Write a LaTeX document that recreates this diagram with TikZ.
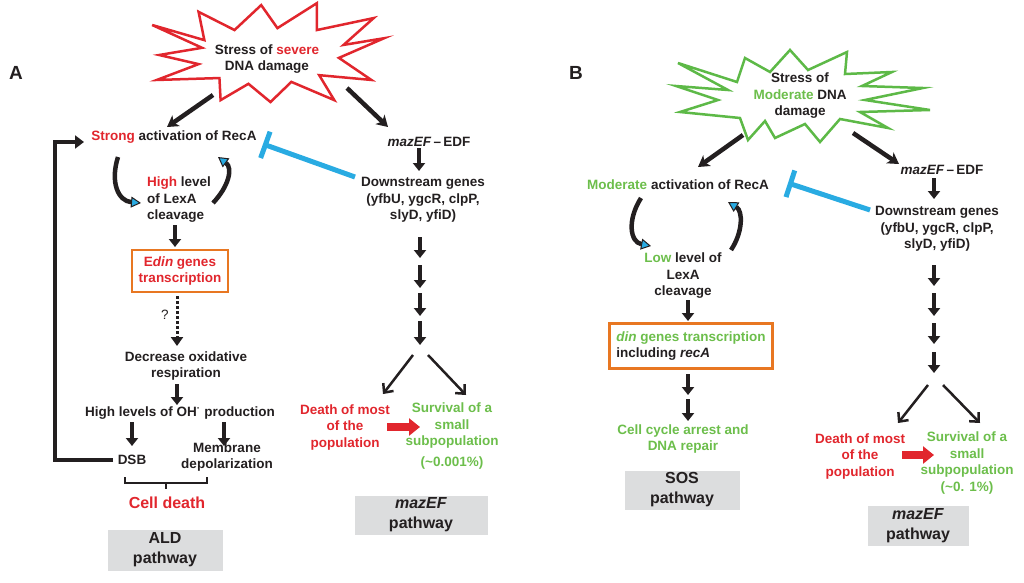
\documentclass[tikz,border=0pt]{standalone}
\usepackage{fontspec}
\setmainfont{Liberation Sans}
\usetikzlibrary{arrows.meta,calc}
\definecolor{myred}{HTML}{E1262D}
\definecolor{mygreen}{HTML}{6CBE4B}
\definecolor{stargreen}{HTML}{5DB947}
\definecolor{myblue}{HTML}{29ABE2}
\definecolor{myorange}{HTML}{E87722}
\definecolor{boxgray}{HTML}{DCDDDE}
\definecolor{ink}{HTML}{231F20}
\newcommand{\rd}[1]{\textcolor{myred}{#1}}
\newcommand{\gn}[1]{\textcolor{mygreen}{#1}}
\tikzset{
  txt/.style={align=center, inner sep=0pt, text=ink, font=\bfseries\fontsize{13.5}{16.5}\selectfont},
  panel/.style={inner sep=0pt, text=ink, font=\bfseries\fontsize{19}{22}\selectfont},
  obox/.style={txt, draw=myorange, line width=2.5pt},
  gbox/.style={fill=boxgray, align=center, inner sep=0pt, text=ink, font=\bfseries\fontsize{16}{20}\selectfont},
  blk/.style={draw=ink, line width=4pt, -{Triangle[length=8pt,width=12pt]}},
  diag/.style={draw=ink, line width=4.5pt, -{Stealth[length=11pt,width=13pt,inset=3pt]}},
  fork/.style={draw=ink, line width=2.5pt, -{Straight Barb[length=7pt,width=13pt]}},
  redarr/.style={draw=myred, line width=8pt, -{Triangle[length=11pt,width=17pt]}},
  curv/.style={draw=ink, line width=4.5pt, -{Triangle[length=10pt,width=11pt,fill=myblue,line width=1pt]}},
  inh/.style={draw=myblue, line width=5pt, -{Bar[width=28pt]}},
  loopline/.style={draw=ink, line width=4pt, -{Triangle[length=9pt,width=13pt]}},
  dotarr/.style={draw=ink, line width=3pt, dash pattern=on 2.5pt off 2.5pt, -{Triangle[length=9pt,width=12pt]}},
  starline/.style={line width=2.5pt, line join=miter}
}
\begin{document}
\begin{tikzpicture}[x=1pt,y=-1pt]
\useasboundingbox (0,0) rectangle (1024,582);

% ================= Panel A =================
\node[panel] (labA) at (16,73) {A};

\begin{scope}[shift={(267,55)},xscale=116,yscale=48]
\draw[starline, draw=myred, fill=white]
 (-0.99,-0.625) -- (-0.54,-0.31) -- (-0.59,-0.90) -- (-0.28,-0.52) -- (-0.05,-1.04)
 -- (0.09,-0.56) -- (0.43,-1.08) -- (0.43,-0.52) -- (0.92,-0.77) -- (0.66,-0.21)
 -- (1.01,-0.35) -- (0.62,0.06) -- (0.90,0.52) -- (0.45,0.42) -- (0.58,0.94)
 -- (0.21,0.56) -- (0.03,0.98) -- (-0.16,0.60) -- (-0.40,0.94) -- (-0.41,0.48)
 -- (-0.95,0.52) -- (-0.59,0.19) -- (-0.93,0.0) -- (-0.56,-0.15) -- cycle;
\end{scope}
\node[txt] (starA) at (267,59) {Stress of \rd{severe}\\DNA damage};

\node[txt] (recA) at (174,137) {\rd{Strong} activation of RecA};
\node[txt, align=left, anchor=west] (lexA) at (147,200) {\rd{High} level\\of LexA\\cleavage};
\node[obox, minimum width=96pt, minimum height=42pt] (edin) at (180,271)
  {\rd{E\textit{din} genes}\\\rd{transcription}};
\node[txt] (qm) at (165,315) {\mdseries ?};
\node[txt] (decr) at (186,366) {Decrease oxidative\\respiration};
\node[txt] (oh) at (180,413) {High levels of OH\textsuperscript{·} production};
\node[txt] (dsb) at (132,460) {DSB};
\node[txt] (memb) at (227,457) {Membrane\\depolarization};
\node[txt, text=myred, font=\bfseries\fontsize{16}{19}\selectfont] (cd) at (167,503) {Cell death};
\node[gbox, minimum width=115pt, minimum height=41pt] (ald) at (165,550) {ALD\\pathway};

\node[txt] (mazA) at (429,142) {\textit{mazEF}\,--\,EDF};
\node[txt] (dnA) at (423,200) {Downstream genes\\(yfbU, ygcR, clpP,\\slyD, yfiD)};
\node[txt, text=myred] (deathA) at (345,427) {Death of most\\of the\\population};
\node[txt, text=mygreen] (survA) at (452,436) {Survival of a\\small\\subpopulation\\[4pt](\textasciitilde0.001\%)};
\node[gbox, minimum width=133pt, minimum height=39pt] (pwA) at (421,515) {\textit{mazEF}\\pathway};

% connectors A
\coordinate (sa1) at (213,95); \coordinate (ra1) at (167,127);
\draw[diag] (sa1) -- (ra1);
\coordinate (sa2) at (347,88); \coordinate (ma1) at (388,127);
\draw[diag] (sa2) -- (ma1);

\coordinate (cl1) at (118,157); \coordinate (cl2) at (141,203);
\draw[curv] (cl1) .. controls (110,182) and (118,201) .. (cl2);
\coordinate (cr1) at (213,203); \coordinate (cr2) at (218,157);
\draw[curv] (cr1) .. controls (229,186) and (233,168) .. (cr2);

\coordinate (l1) at (175,225); \coordinate (l2) at (175,247);
\draw[blk] (l1) -- (l2);
\coordinate (d1) at (177,296); \coordinate (d2) at (177,346);
\draw[dotarr] (d1) -- (d2);
\coordinate (r1) at (177,384); \coordinate (r2) at (177,405);
\draw[blk] (r1) -- (r2);
\coordinate (o1) at (132,422); \coordinate (o2) at (132,446);
\draw[blk] (o1) -- (o2);
\coordinate (o3) at (224,422); \coordinate (o4) at (224,446);
\draw[blk] (o3) -- (o4);

\coordinate (fb1) at (113,460); \coordinate (fb2) at (84,142);
\draw[loopline] (fb1) -- (55,460) -- (55,142) -- (fb2);

\draw[draw=ink, line width=1.5pt] (125,477) -- (125,483) -- (207,483) -- (207,477);
\draw[draw=ink, line width=1.5pt] (166,483) -- (166,489);

\coordinate (ia1) at (355,177); \coordinate (ia2) at (263,144);
\draw[inh] (ia1) -- (ia2);

\coordinate (m1) at (419,148); \coordinate (m2) at (419,171);
\draw[blk] (m1) -- (m2);
\foreach \ya/\yb [count=\i] in {237/258,265/288,293/316,321/345}{
  \coordinate (ca\i a) at (420,\ya); \coordinate (ca\i b) at (420,\yb);
  \draw[blk] (ca\i a) -- (ca\i b);
}
\coordinate (fa0) at (413,355); \coordinate (fa1) at (383,394);
\draw[fork] (fa0) -- (fa1);
\coordinate (fa2) at (428,355); \coordinate (fa3) at (466,395);
\draw[fork] (fa2) -- (fa3);
\coordinate (ra0) at (387,427); \coordinate (ra2) at (420,427);
\draw[redarr] (ra0) -- (ra2);

% ================= Panel B =================
\node[panel] (labB) at (576,73) {B};

\draw[starline, draw=stargreen, fill=white]
 (678,63) -- (737,82) -- (745,58) -- (770,72) -- (790,50) -- (808,70)
 -- (847,52) -- (845,74) -- (892,72) -- (862,86) -- (923,88) -- (865,100)
 -- (930,110) -- (860,112) -- (888,128) -- (840,119) -- (820,142) -- (805,124)
 -- (775,138) -- (765,121) -- (748,140) -- (740,118) -- (680,112) -- (718,100)
 -- (676,86) -- (728,90) -- cycle;
\node[txt] (starB) at (800,96) {Stress of\\\gn{Moderate} DNA\\damage};

\node[txt] (recB) at (678,185) {\gn{Moderate} activation of RecA};
\node[txt] (lexB) at (683,276) {\gn{Low} level of\\LexA\\cleavage};
\node[obox, align=left, minimum width=163pt, minimum height=45pt] (dinB) at (691,346)
  {\gn{\textit{din} genes transcription}\\including \textit{recA}};
\node[txt, text=mygreen] (ccB) at (683,439) {Cell cycle arrest and\\DNA repair};
\node[gbox, minimum width=115pt, minimum height=39pt] (sos) at (682,490) {SOS\\pathway};

\node[txt] (mazB) at (942,170) {\textit{mazEF}\,--\,EDF};
\node[txt] (dnB) at (937,229) {Downstream genes\\(yfbU, ygcR, clpP,\\slyD, yfiD)};
\node[txt, text=myred] (deathB) at (860,456) {Death of most\\of the\\population};
\node[txt, text=mygreen] (survB) at (967,463) {Survival of a\\small\\subpopulation\\(\textasciitilde0. 1\%)};
\node[gbox, minimum width=101pt, minimum height=40pt] (pwB) at (918,526) {\textit{mazEF}\\pathway};

% connectors B
\coordinate (sb1) at (743,135); \coordinate (rb1) at (698,167);
\draw[diag] (sb1) -- (rb1);
\coordinate (sb2) at (853,133); \coordinate (mb1) at (899,164);
\draw[diag] (sb2) -- (mb1);

\coordinate (cbl1) at (641,198); \coordinate (cbl2) at (651,246);
\draw[curv] (cbl1) .. controls (627,220) and (630,242) .. (cbl2);
\coordinate (cbr1) at (731,250); \coordinate (cbr2) at (728,202);
\draw[curv] (cbr1) .. controls (743,232) and (743,211) .. (cbr2);

\coordinate (lb1) at (688,300); \coordinate (lb2) at (688,321);
\draw[blk] (lb1) -- (lb2);
\coordinate (db1) at (688,374); \coordinate (db2) at (688,395);
\draw[blk] (db1) -- (db2);
\coordinate (db3) at (688,399); \coordinate (db4) at (688,421);
\draw[blk] (db3) -- (db4);

\coordinate (ib1) at (870,210); \coordinate (ib2) at (788,183);
\draw[inh] (ib1) -- (ib2);

\coordinate (mb2) at (934,178); \coordinate (mb3) at (934,199);
\draw[blk] (mb2) -- (mb3);
\foreach \ya/\yb [count=\i] in {265/286,293/316,323/344,352/373}{
  \coordinate (cb\i a) at (934,\ya); \coordinate (cb\i b) at (934,\yb);
  \draw[blk] (cb\i a) -- (cb\i b);
}
\coordinate (fb0) at (928,385); \coordinate (fbb1) at (898,423);
\draw[fork] (fb0) -- (fbb1);
\coordinate (fb2b) at (943,385); \coordinate (fb3) at (980,423);
\draw[fork] (fb2b) -- (fb3);
\coordinate (rb0) at (902,455); \coordinate (rbb2) at (934,455);
\draw[redarr] (rb0) -- (rbb2);
\end{tikzpicture}
\end{document}
